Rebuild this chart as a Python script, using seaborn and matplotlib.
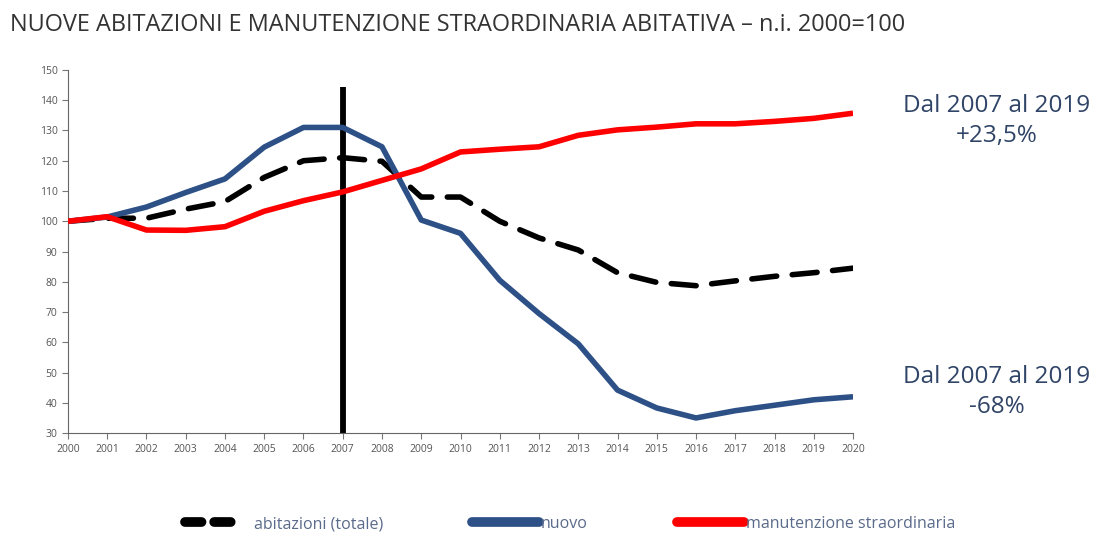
import numpy as np
import pandas as pd
import matplotlib
matplotlib.use("Agg")
import matplotlib.pyplot as plt
from matplotlib.lines import Line2D
import seaborn as sns

# ----------------------------------------------------------------------------
# Dati (n.i. 2000=100)
# ----------------------------------------------------------------------------
anni = list(range(2000, 2021))
abitazioni_totale = [100, 101, 101, 104, 106.5, 114.5, 120, 121, 119.8, 108, 108,
                     100, 94.5, 90.5, 83, 79.8, 78.7, 80.3, 81.8, 83, 84.5]
nuovo = [100, 101.4, 104.7, 109.5, 114, 124.5, 131, 131, 124.6, 100.4, 96,
         80.5, 69.5, 59.5, 44.2, 38.3, 35, 37.4, 39.2, 41, 42]
manutenzione = [100, 101.5, 97.1, 97, 98.2, 103.3, 106.8, 109.7, 113.5, 117.3, 122.9,
                123.8, 124.6, 128.4, 130.2, 131.1, 132.2, 132.2, 133, 134, 135.7]

y_ticks = list(range(30, 151, 10))
serie_labels = ["abitazioni (totale)", "nuovo", "manutenzione straordinaria"]

BLU = "#2d5187"
ROSSO = "#ff0000"
GRIGIO = "#555555"
TESTO_BLU = "#2f4466"

df = pd.DataFrame({
    "anno": anni * 3,
    "valore": abitazioni_totale + nuovo + manutenzione,
    "serie": [serie_labels[0]] * len(anni) + [serie_labels[1]] * len(anni) + [serie_labels[2]] * len(anni),
})

sns.set_style("ticks")
plt.rcParams["font.family"] = ["Open Sans", "DejaVu Sans"]

fig = plt.figure(figsize=(11.07, 5.38), dpi=100)
ax = fig.add_axes([0.0614, 0.195, 0.7092, 0.675])

# linea verticale 2007
ax.vlines(2007, 28.8, 144.5, color="black", lw=4.2, zorder=1)

colori = {serie_labels[0]: "black", serie_labels[1]: BLU, serie_labels[2]: ROSSO}
for nome in [serie_labels[1], serie_labels[0], serie_labels[2]]:
    sub = df[df["serie"] == nome]
    sns.lineplot(data=sub, x="anno", y="valore", ax=ax, color=colori[nome],
                 lw=4, legend=False, zorder=3 if nome != serie_labels[0] else 2.5)
l_blu, l_nero, l_rosso = ax.lines[-3:]
l_nero.set_dashes((4.5, 2.8))
l_nero.set_dash_capstyle("round")
for ln in (l_blu, l_rosso):
    ln.set_solid_capstyle("butt")
    ln.set_solid_joinstyle("round")

ax.set_xlim(2000, 2020)
ax.set_ylim(30, 150)
ax.set_xticks(anni)
ax.set_yticks(y_ticks)
ax.tick_params(axis="both", labelsize=7.5, colors="#777777", labelcolor=GRIGIO,
               length=4, width=0.8, direction="out")
ax.set_xlabel("")
ax.set_ylabel("")
for s in ("top", "right"):
    ax.spines[s].set_visible(False)
for s in ("left", "bottom"):
    ax.spines[s].set_color("#666666")
    ax.spines[s].set_linewidth(0.8)

fig.text(0.009, 0.953, "NUOVE ABITAZIONI E MANUTENZIONE STRAORDINARIA ABITATIVA \u2013 n.i. 2000=100",
         fontsize=16.9, color="#333333", ha="left", va="center")

fig.text(0.9006, 0.775, "Dal 2007 al 2019\n+23,5%", fontsize=17.5, color=TESTO_BLU,
         ha="center", va="center", linespacing=1.35)
fig.text(0.9006, 0.271, "Dal 2007 al 2019\n-68%", fontsize=17.5, color=TESTO_BLU,
         ha="center", va="center", linespacing=1.35)

h = [Line2D([], [], color="black", lw=7, dashes=(1.7, 1.3, 1.7, 20), dash_capstyle="round"),
     Line2D([], [], color=BLU, lw=7, solid_capstyle="round"),
     Line2D([], [], color=ROSSO, lw=7, solid_capstyle="round")]
leg = fig.legend(h, serie_labels, loc="center", bbox_to_anchor=(0.515, 0.026), ncol=3,
                 frameon=False, fontsize=11.5, handlelength=4.2, handletextpad=0.1,
                 columnspacing=5.6)
for t in leg.get_texts():
    t.set_color("#5a6a8a")

fig.savefig("out.png", dpi=100)
